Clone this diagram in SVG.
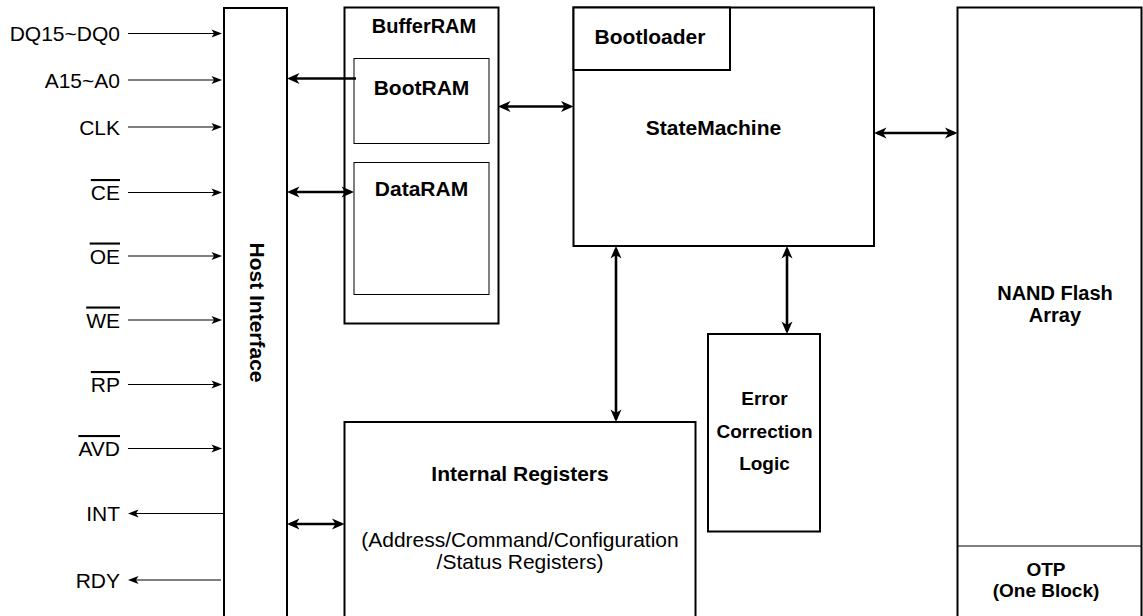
<svg xmlns="http://www.w3.org/2000/svg" width="1143" height="616" viewBox="0 0 1143 616">
<style>
.box{fill:#fff;stroke:#000;stroke-width:2}
.thin{fill:none;stroke:#000;stroke-width:1}
.lbl{font-family:"Liberation Sans",Arial,sans-serif;font-size:21px;fill:#000}
.s19{font-size:19px}
.s20{font-size:20px}
.b{font-weight:bold}
.m{text-anchor:middle}
.r{text-anchor:end}
.ov{text-decoration:overline}
.sig{fill:none;stroke:#000;stroke-width:1.2}
.bus{fill:none;stroke:#000;stroke-width:2.6}
</style>
<defs>
<marker id="big" markerWidth="14" markerHeight="14" refX="10" refY="7" orient="auto-start-reverse" markerUnits="userSpaceOnUse">
<path d="M0.5,1.5 L13,7 L0.5,12.5 L4,7 Z" fill="#000"/>
</marker>
<marker id="small" markerWidth="12" markerHeight="10" refX="9" refY="5" orient="auto-start-reverse" markerUnits="userSpaceOnUse">
<path d="M0.5,1 L11,5 L0.5,9 L3,5 Z" fill="#000"/>
</marker>
</defs>

<g id="host-interface">
<rect class="box" x="224" y="8" width="63" height="630"/>
<text class="lbl b m" transform="translate(250,312.5) rotate(90)">Host Interface</text>
</g>

<g id="bufferram">
<rect class="box" x="344.5" y="7.5" width="154" height="316"/>
<text class="lbl s20 b m" x="424" y="33">BufferRAM</text>
</g>
<g id="bootram">
<rect class="thin" x="354" y="58.5" width="135" height="85"/>
<text class="lbl b m" x="421.5" y="95">BootRAM</text>
</g>
<g id="dataram">
<rect class="thin" x="354" y="162.5" width="135" height="132"/>
<text class="lbl b m" x="421.5" y="196">DataRAM</text>
</g>

<g id="statemachine">
<rect class="box" x="573.5" y="7.5" width="300.5" height="238.5"/>
<text class="lbl b m" x="713.5" y="135">StateMachine</text>
</g>
<g id="bootloader">
<rect class="box" x="573.5" y="7.5" width="156.5" height="62.5"/>
<text class="lbl b m" x="650" y="44">Bootloader</text>
</g>

<g id="nand-flash">
<rect class="box" x="957.5" y="7.5" width="184" height="630"/>
<text class="lbl s20 b m" x="1055" y="300">NAND Flash</text>
<text class="lbl s20 b m" x="1055" y="322">Array</text>
</g>
<g id="otp">
<line class="thin" x1="957.5" y1="546" x2="1141.5" y2="546"/>
<text class="lbl s19 b m" x="1046" y="576">OTP</text>
<text class="lbl s19 b m" x="1046" y="597">(One Block)</text>
</g>

<g id="ecc">
<rect class="box" x="708" y="334" width="112" height="197.5"/>
<text class="lbl s19 b m" x="764.5" y="405">Error</text>
<text class="lbl s19 b m" x="764.5" y="437.5">Correction</text>
<text class="lbl s19 b m" x="764.5" y="470">Logic</text>
</g>

<g id="internal-registers">
<rect class="box" x="344.5" y="422" width="351" height="230"/>
<text class="lbl b m" x="520" y="481">Internal Registers</text>
<text class="lbl m" x="520" y="547">(Address/Command/Configuration</text>
<text class="lbl m" x="520" y="569">/Status Registers)</text>
</g>

<g id="signals">
<text class="lbl r" x="120" y="41">DQ15~DQ0</text>
<text class="lbl r" x="120" y="87.5">A15~A0</text>
<text class="lbl r" x="120" y="134.5">CLK</text>
<text class="lbl r ov" x="120" y="200">CE</text>
<text class="lbl r ov" x="120" y="263.5">OE</text>
<text class="lbl r ov" x="120" y="327.5">WE</text>
<text class="lbl r ov" x="120" y="392">RP</text>
<text class="lbl r ov" x="120" y="456">AVD</text>
<text class="lbl r" x="120" y="521">INT</text>
<text class="lbl r" x="120" y="587.5">RDY</text>
</g>

<g id="connectors">
<path class="sig" d="M128,33.5 H220" marker-end="url(#small)"/>
<path class="sig" d="M128,80 H220" marker-end="url(#small)"/>
<path class="sig" d="M128,127 H220" marker-end="url(#small)"/>
<path class="sig" d="M128,192.5 H220" marker-end="url(#small)"/>
<path class="sig" d="M128,256 H220" marker-end="url(#small)"/>
<path class="sig" d="M128,320 H220" marker-end="url(#small)"/>
<path class="sig" d="M128,384.5 H220" marker-end="url(#small)"/>
<path class="sig" d="M128,448.5 H220" marker-end="url(#small)"/>
<path class="sig" d="M223,513.5 H130" marker-end="url(#small)"/>
<path class="sig" d="M221,580 H130" marker-end="url(#small)"/>

<path class="bus" d="M356,78.5 H290" marker-end="url(#big)"/>
<path class="bus" d="M290,192 H351" marker-start="url(#big)" marker-end="url(#big)"/>
<path class="bus" d="M501,106.5 H570.5" marker-start="url(#big)" marker-end="url(#big)"/>
<path class="bus" d="M877,133 H954.5" marker-start="url(#big)" marker-end="url(#big)"/>
<path class="bus" d="M290,524 H341.5" marker-start="url(#big)" marker-end="url(#big)"/>
<path class="bus" d="M616,249 V419" marker-start="url(#big)" marker-end="url(#big)"/>
<path class="bus" d="M787,249 V331" marker-start="url(#big)" marker-end="url(#big)"/>
</g>
</svg>
